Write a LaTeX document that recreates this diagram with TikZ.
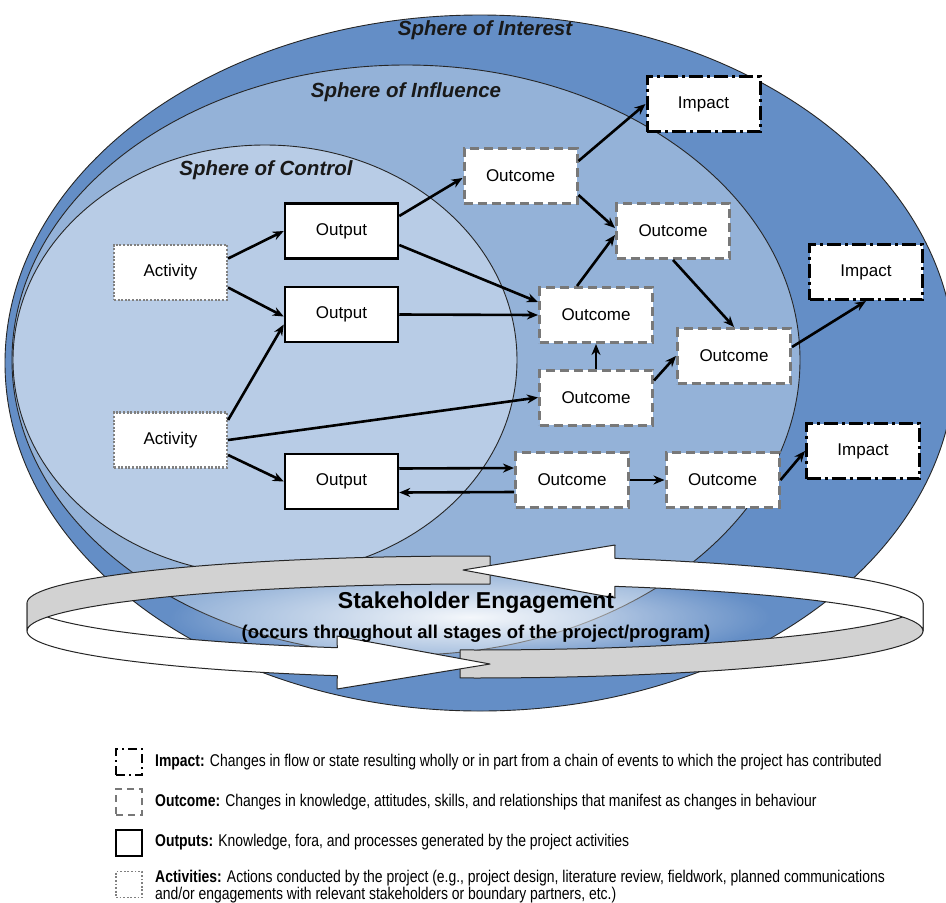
\documentclass[tikz,border=0pt]{standalone}
\usepackage{fontspec}
\setmainfont{Liberation Sans}
\newfontfamily\legendfont[FakeStretch=0.82]{Liberation Sans}
\usetikzlibrary{arrows.meta,fadings,calc}
\definecolor{interest}{RGB}{100,142,198}
\definecolor{influence}{RGB}{148,178,216}
\definecolor{control}{RGB}{184,204,230}
\definecolor{dotgray}{RGB}{128,128,128}
\definecolor{dashgray}{RGB}{120,120,120}
\definecolor{ringgray}{RGB}{210,210,210}
\tikzfading[name=glowfade, inner color=transparent!0, outer color=transparent!100]
\tikzset{
  sphereline/.style={draw=black!85, line width=0.9pt},
  spherelabel/.style={font=\fontsize{20.5}{24}\selectfont\bfseries\itshape, text=black!90, inner sep=0pt},
  box/.style={fill=white, minimum width=113pt, minimum height=55pt, inner sep=0pt, font=\fontsize{17}{20}\selectfont},
  activitybox/.style={box, draw=dotgray, line width=2.2pt, dash pattern=on 2pt off 1.6pt},
  outputbox/.style={box, draw=black, line width=2.5pt},
  outcomebox/.style={box, draw=dashgray, line width=3pt, dash pattern=on 9pt off 5pt},
  impactbox/.style={box, draw=black, line width=3pt, dash pattern=on 14pt off 4pt on 3pt off 4pt},
  flow/.style={line width=2.6pt, draw=black, -{Stealth[length=11pt,width=9pt]}},
  ringband/.style={draw=black!85, line width=1pt, line join=round},
  ringtitle/.style={font=\fontsize{23}{26}\selectfont\bfseries, inner sep=0pt},
  ringsub/.style={font=\fontsize{18.5}{22}\selectfont\bfseries, inner sep=0pt},
  legicon/.style={fill=white, minimum width=26pt, minimum height=26pt, inner sep=0pt},
  legtext/.style={font=\fontsize{17}{20}\selectfont\legendfont, anchor=west, inner sep=0pt, align=left},
}
\begin{document}
\begin{tikzpicture}[x=1pt,y=-1pt]
\clip (0,0) rectangle (946,903);
\fill[white] (0,0) rectangle (946,903);
% spheres
\draw[sphereline, fill=interest] (480,363) ellipse [x radius=475, y radius=348];
\draw[sphereline, fill=influence] (406,360) ellipse [x radius=394, y radius=295];
\draw[sphereline, fill=control] (265,360) ellipse [x radius=252, y radius=215];
\node[spherelabel] (lint) at (485,30) {Sphere of Interest};
\node[spherelabel] (linf) at (406,92) {Sphere of Influence};
\node[spherelabel] (lcon) at (266,170) {Sphere of Control};
% boxes
\node[activitybox] (act1) at (170.5,272.5) {Activity};
\node[activitybox] (act2) at (170.5,440) {Activity};
\node[outputbox] (out1) at (341.5,231) {Output};
\node[outputbox] (out2) at (341.5,314.5) {Output};
\node[outputbox] (out3) at (341.5,481.5) {Output};
\node[outcomebox] (oc1) at (520.5,176) {Outcome};
\node[outcomebox] (oc2) at (673,231) {Outcome};
\node[outcomebox] (oc3) at (596,315) {Outcome};
\node[outcomebox] (oc4) at (734,356) {Outcome};
\node[outcomebox] (oc5) at (596,397.5) {Outcome};
\node[outcomebox] (oc6) at (572,480) {Outcome};
\node[outcomebox] (oc7) at (722.5,480) {Outcome};
\node[impactbox] (imp1) at (703.5,104) {Impact};
\node[impactbox] (imp2) at (866,272) {Impact};
\node[impactbox] (imp3) at (863,451) {Impact};
% connectors
\draw[flow] ($(act1.east)+(0,-14)$) -- (out1.west);
\draw[flow] ($(act1.east)+(0,15)$) -- ($(out2.west)+(0,2)$);
\draw[flow] ($(act2.east)+(0,-20)$) -- ($(out2.west)+(0,10)$);
\draw[flow] (act2.east) -- (oc5.west);
\draw[flow] ($(act2.east)+(0,15)$) -- (out3.west);
\draw[flow] ($(out1.east)+(0,-15)$) -- ($(oc1.west)+(0,2)$);
\draw[flow] ($(out1.east)+(0,14)$) -- ($(oc3.west)+(0,-13)$);
\draw[flow] (out2.east) -- (oc3.west);
\draw[flow] (oc5.north) -- (oc3.south);
\draw[flow] ($(oc3.north west)+(39,0)$) -- ($(oc2.west)+(0,4)$);
\draw[flow] ($(oc1.east)+(0,19)$) -- ($(oc2.west)+(0,-3)$);
\draw[flow] ($(oc1.east)+(0,-15)$) -- (imp1.west);
\draw[flow] (oc2.south) -- (oc4.north);
\draw[flow] ($(oc5.east)+(0,-17)$) -- (oc4.west);
\draw[flow] ($(oc4.east)+(0,-9)$) -- (imp2.south);
\draw[flow] ($(out3.east)+(0,-13)$) -- ($(oc6.west)+(0,-12)$);
\draw[flow] ($(oc6.west)+(0,12)$) -- ($(out3.east)+(0,11)$);
\draw[flow] (oc6.east) -- (oc7.west);
\draw[flow] (oc7.east) -- (imp3.west);
% glow inside ring
\fill[white, path fading=glowfade, fill opacity=0.9] (470,617) ellipse [x radius=300, y radius=48];
% ring: front gray band
\filldraw[ringband, fill=ringgray]
  plot[domain=91.9:0, samples=40] ({475+448*cos(\x)},{603+47*sin(\x)})
  -- plot[domain=0:91.9, samples=40] ({475+448*cos(\x)},{631+47*sin(\x)}) -- cycle;
% ring: front white arrow
\filldraw[ringband, fill=white]
  plot[domain=180:107.9, samples=40] ({475+448*cos(\x)},{603+47*sin(\x)})
  -- (337,636) -- (490,664) -- (337,689)
  -- plot[domain=107.9:180, samples=40] ({475+448*cos(\x)},{631+47*sin(\x)}) -- cycle;
% ring: back gray band
\filldraw[ringband, fill=ringgray]
  plot[domain=180:271.92, samples=40] ({475+448*cos(\x)},{603+47*sin(\x)})
  -- plot[domain=271.92:180, samples=40] ({475+448*cos(\x)},{631+47*sin(\x)}) -- cycle;
% ring: back white arrow
\filldraw[ringband, fill=white]
  (463,570) -- (615,545)
  -- plot[domain=288.2:360, samples=40] ({475+448*cos(\x)},{603+47*sin(\x)})
  -- plot[domain=360:288.2, samples=40] ({475+448*cos(\x)},{631+47*sin(\x)})
  -- (615,598) -- cycle;
\node[ringtitle] (se) at (476,603) {Stakeholder Engagement};
\node[ringsub] (sesub) at (476,634) {(occurs throughout all stages of the project/program)};
% legend
\node[legicon, draw=black, line width=2.4pt, dash pattern=on 9pt off 4pt on 2pt off 4pt] (li) at (129,762) {};
\node[legtext] (lit) at (155,762) {\textbf{Impact:} Changes in flow or state resulting wholly or in part from a chain of events to which the project has contributed};
\node[legicon, draw=dashgray, line width=2.2pt, dash pattern=on 7pt off 5pt] (lo) at (129,802) {};
\node[legtext] (lot) at (155,802) {\textbf{Outcome:} Changes in knowledge, attitudes, skills, and relationships that manifest as changes in behaviour};
\node[legicon, draw=black, line width=2.6pt] (lp) at (129,843) {};
\node[legtext] (lpt) at (155,842) {\textbf{Outputs:} Knowledge, fora, and processes generated by the project activities};
\node[legicon, draw=dotgray, line width=1.8pt, dash pattern=on 1.8pt off 1.8pt] (la) at (129,884.5) {};
\node[legtext] (lat) at (155,878) {\textbf{Activities:} Actions conducted by the project (e.g., project design, literature review, fieldwork, planned communications};
\node[legtext] (lat2) at (155,895) {and/or engagements with relevant stakeholders or boundary partners, etc.)};
\end{tikzpicture}
\end{document}
